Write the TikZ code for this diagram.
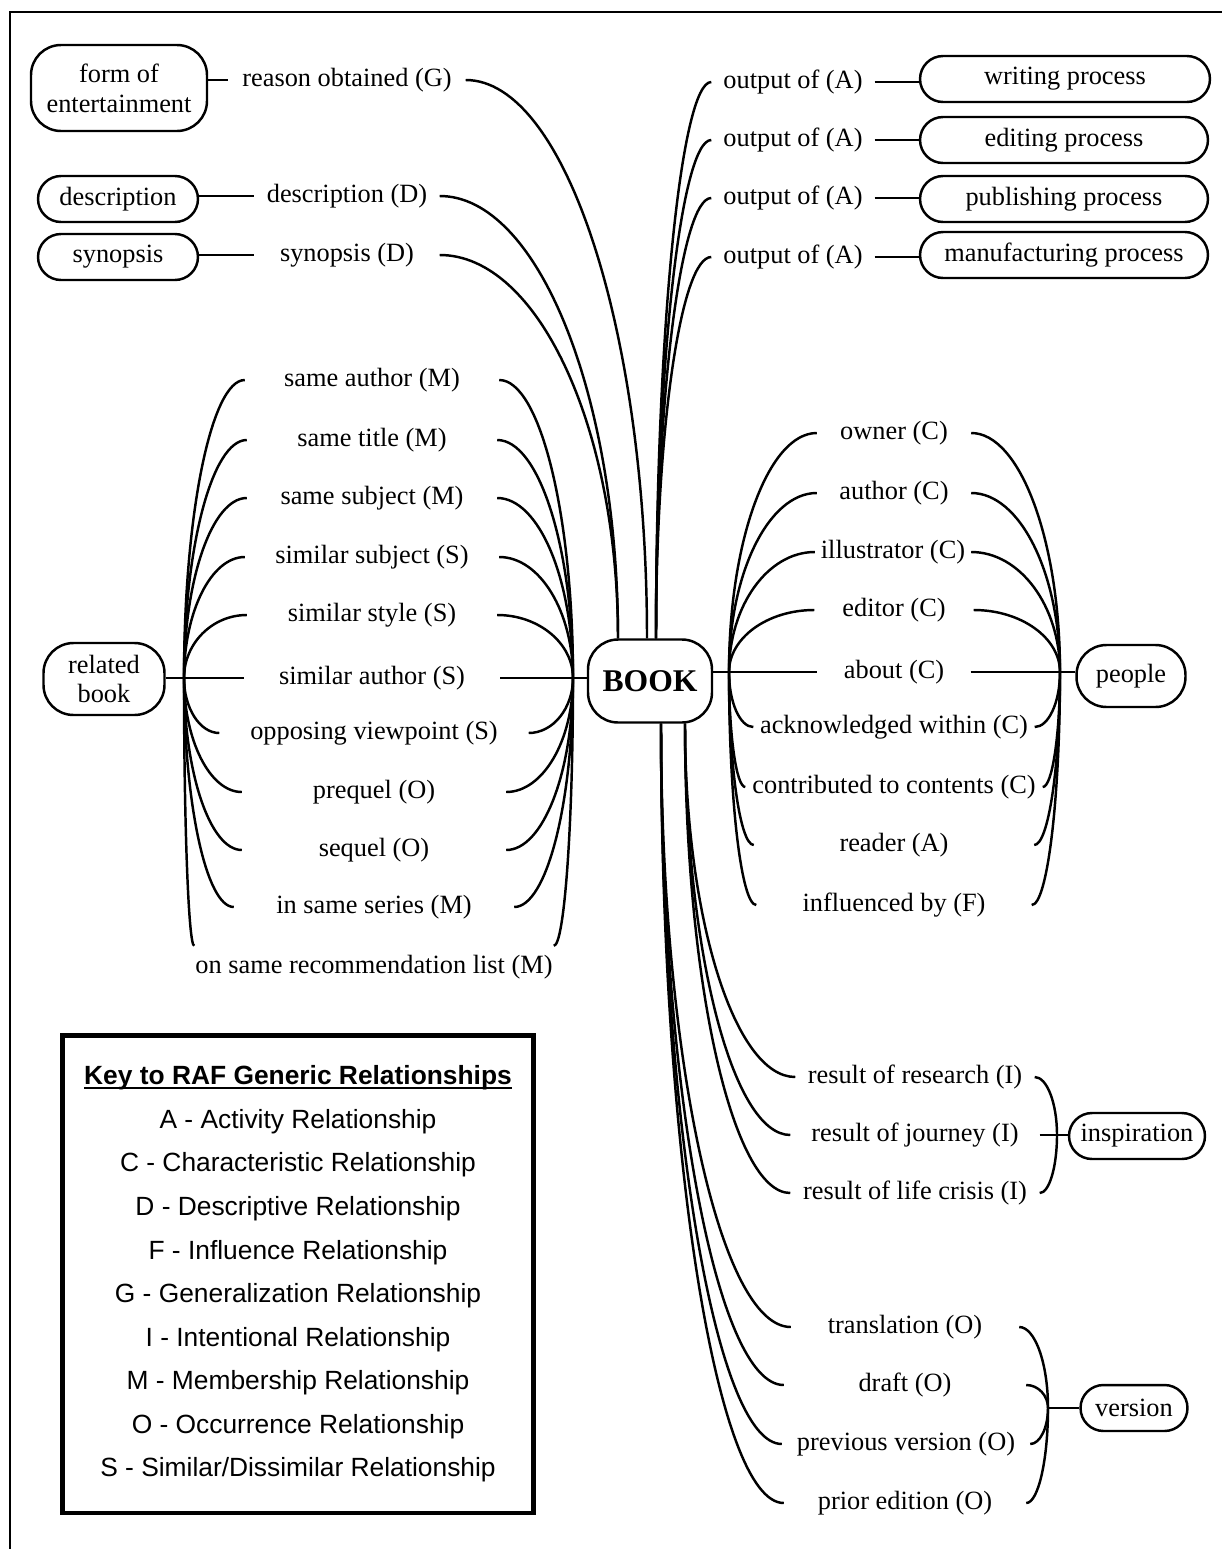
\documentclass[tikz,border=0pt]{standalone}
\usepackage{fontspec}
\setmainfont{Liberation Serif}
\newfontfamily\keyfont{Liberation Sans}
\usetikzlibrary{calc}
\newcommand\keyhead[1]{\setbox0=\hbox{#1}\rlap{\copy0}\rule[-2.2pt]{\wd0}{1pt}}

\begin{document}
\begin{tikzpicture}[x=0.02cm,y=-0.02cm,line width=1.4pt,
    font=\fontsize{15}{17}\selectfont,
    box/.style={draw,rounded corners=0.6cm,align=center,inner sep=2pt},
    pill/.style={draw,rounded corners=0.46cm,minimum height=0.92cm,inner sep=2pt},
    rel/.style={inner sep=0pt},
    curl/.style={to path={.. controls ($(\tikztostart)!0.55!(\tikztostart|-\tikztotarget)$)
      and ($(\tikztotarget)!0.55!(\tikztostart|-\tikztotarget)$) .. (\tikztotarget)}}]

\useasboundingbox (0,0) rectangle (1222,1549);
\draw[line width=1.7pt] (1222,12) -- (10,12) -- (10,1549);

% centre
\node[box,minimum width=2.48cm,minimum height=1.66cm,font=\fontsize{18}{20}\selectfont\bfseries] (book) at (650,681) {BOOK};
\coordinate (topA) at ($(book.north)+(-32,0)$);
\coordinate (topB) at ($(book.north)+(-3,0)$);
\coordinate (topC) at ($(book.north)+(6,0)$);
\coordinate (botA) at ($(book.south)+(11,0)$);
\coordinate (botB) at ($(book.south)+(35,0)$);

% top left
\node[box,minimum width=3.52cm,minimum height=1.72cm] (fun) at (119,88) {form of\\entertainment};
\node[rel,minimum width=4.7cm] (why) at (347,80) {reason obtained (G)};
\node[pill,minimum width=3.2cm] (desc) at (118,199) {description};
\node[rel,minimum width=3.66cm] (descr) at (347,196) {description (D)};
\node[pill,minimum width=3.2cm] (syn) at (118,257) {synopsis};
\node[rel,minimum width=3.66cm] (synr) at (347,255) {synopsis (D)};
\draw (why.west -| fun.east) -- (why.west);
\draw (descr.west -| desc.east) -- (descr.west);
\draw (synr.west -| syn.east) -- (synr.west);
\path (topB) edge[curl] (why.east);
\path (topA) edge[curl] (descr.east) edge[curl] (synr.east);

% top right
\node[rel,minimum width=3.22cm] (out1) at (793,82) {output of (A)};
\node[rel,minimum width=3.22cm] (out2) at (793,140) {output of (A)};
\node[rel,minimum width=3.22cm] (out3) at (793,198) {output of (A)};
\node[rel,minimum width=3.22cm] (out4) at (793,257) {output of (A)};
\node[pill,minimum width=5.8cm] (write) at (1065,79) {writing process};
\node[pill,minimum width=5.76cm] (edit) at (1064,140) {editing process};
\node[pill,minimum width=5.76cm] (publish) at (1064,199) {publishing process};
\node[pill,minimum width=5.76cm] (make) at (1064,255) {manufacturing process};
\path (topC) edge[curl] (out1.west) edge[curl] (out2.west) edge[curl] (out3.west) edge[curl] (out4.west);
\draw (out1.east) -- (out1.east -| write.west);
\draw (out2.east) -- (out2.east -| edit.west);
\draw (out3.east) -- (out3.east -| publish.west);
\draw (out4.east) -- (out4.east -| make.west);

% related book
\node[box,minimum width=2.42cm,minimum height=1.44cm] (other) at (104,679) {related\\book};
\coordinate (jl) at (184,678);
\coordinate (jr) at (573,678);
\node[rel,minimum width=5.04cm] (sa) at (372,380) {same author (M)};
\node[rel,minimum width=4.96cm] (st) at (372,440) {same title (M)};
\node[rel,minimum width=4.96cm] (ss) at (372,498) {same subject (M)};
\node[rel,minimum width=5.04cm] (sj) at (372,557) {similar subject (S)};
\node[rel,minimum width=4.96cm] (sst) at (372,615) {similar style (S)};
\node[rel,minimum width=5.08cm] (su) at (372,678) {similar author (S)};
\node[rel,minimum width=6.14cm] (ov) at (374,733) {opposing viewpoint (S)};
\node[rel,minimum width=5.24cm] (pq) at (374,792) {prequel (O)};
\node[rel,minimum width=5.24cm] (sq) at (374,850) {sequel (O)};
\node[rel,minimum width=5.56cm] (ser) at (374,907) {in same series (M)};
\node[rel,minimum width=7.04cm,minimum height=0.8cm] (rec) at (374,967) {on same recommendation list (M)};
\draw (jl -| other.east) -- (jl) -- (su.west);
\draw (su.east) -- (jr) -- (jr -| book.west);
\path (jl) edge[curl] (sa.west) edge[curl] (st.west) edge[curl] (ss.west) edge[curl] (sj.west)
  edge[curl] (sst.west) edge[curl] (ov.west) edge[curl] (pq.west) edge[curl] (sq.west)
  edge[curl] (ser.west) edge[curl] (rec.north west);
\path (jr) edge[curl] (sa.east) edge[curl] (st.east) edge[curl] (ss.east) edge[curl] (sj.east)
  edge[curl] (sst.east) edge[curl] (ov.east) edge[curl] (pq.east) edge[curl] (sq.east)
  edge[curl] (ser.east) edge[curl] (rec.north east);

% people
\coordinate (pl) at (729,672);
\coordinate (pr) at (1060,672);
\node[box,minimum width=2.18cm,minimum height=1.24cm] (folk) at (1131,676) {people};
\node[rel,minimum width=3.04cm] (own) at (894,433) {owner (C)};
\node[rel,minimum width=3.04cm] (auth) at (894,493) {author (C)};
\node[rel,minimum width=3.08cm] (ill) at (893,552) {illustrator (C)};
\node[rel,minimum width=3.14cm] (edt) at (894,610) {editor (C)};
\node[rel,minimum width=3.02cm] (abt) at (894,672) {about (C)};
\node[rel,minimum width=5.58cm] (ack) at (894,727) {acknowledged within (C)};
\node[rel,minimum width=5.9cm] (contr) at (894,787) {contributed to contents (C)};
\node[rel,minimum width=5.56cm] (read) at (894,845) {reader (A)};
\node[rel,minimum width=5.46cm] (infl) at (894,905) {influenced by (F)};
\draw (pl -| book.east) -- (pl) -- (abt.west);
\draw (abt.east) -- (pr) -- (pr -| folk.west);
\path (pl) edge[curl] (own.west) edge[curl] (auth.west) edge[curl] (ill.west) edge[curl] (edt.west)
  edge[curl] (ack.west) edge[curl] (contr.west) edge[curl] (read.west) edge[curl] (infl.west);
\path (pr) edge[curl] (own.east) edge[curl] (auth.east) edge[curl] (ill.east) edge[curl] (edt.east)
  edge[curl] (ack.east) edge[curl] (contr.east) edge[curl] (read.east) edge[curl] (infl.east);

% inspiration
\coordinate (ji) at (1057,1135);
\node[pill,minimum width=2.72cm] (insp) at (1137,1136) {inspiration};
\node[rel,minimum width=4.74cm] (res) at (915,1077) {result of research (I)};
\node[rel,minimum width=4.94cm] (jour) at (915,1135) {result of journey (I)};
\node[rel,minimum width=4.94cm] (cris) at (915,1193) {result of life crisis (I)};
\path (botB) edge[curl] (res.west) edge[curl] (jour.west) edge[curl] (cris.west);
\path (ji) edge[curl] (res.east) edge[curl] (cris.east);
\draw (jour.east) -- (ji) -- (ji -| insp.west);

% version
\coordinate (jv) at (1048,1408);
\node[pill,minimum width=2.14cm] (ver) at (1134,1408) {version};
\node[rel,minimum width=4.52cm] (trans) at (905,1327) {translation (O)};
\node[rel,minimum width=4.8cm] (draft) at (905,1385) {draft (O)};
\node[rel,minimum width=4.92cm] (prev) at (906,1444) {previous version (O)};
\node[rel,minimum width=4.8cm] (prior) at (905,1503) {prior edition (O)};
\path (botA) edge[curl] (trans.west) edge[curl] (draft.west) edge[curl] (prev.west) edge[curl] (prior.west);
\path (jv) edge[curl] (trans.east) edge[curl] (draft.east) edge[curl] (prev.east) edge[curl] (prior.east);
\draw (jv) -- (ver.west);

% key
\node[draw,line width=2.8pt,minimum width=9.42cm,minimum height=9.56cm,align=center,
  font=\keyfont\fontsize{15}{24.8}\selectfont] (key) at (298,1274)
  {\keyhead{\bfseries Key to RAF Generic Relationships}\\
   A - Activity Relationship\\
   C - Characteristic Relationship\\
   D - Descriptive Relationship\\
   F - Influence Relationship\\
   G - Generalization Relationship\\
   I - Intentional Relationship\\
   M - Membership Relationship\\
   O - Occurrence Relationship\\
   S - Similar/Dissimilar Relationship};
\end{tikzpicture}
\end{document}
